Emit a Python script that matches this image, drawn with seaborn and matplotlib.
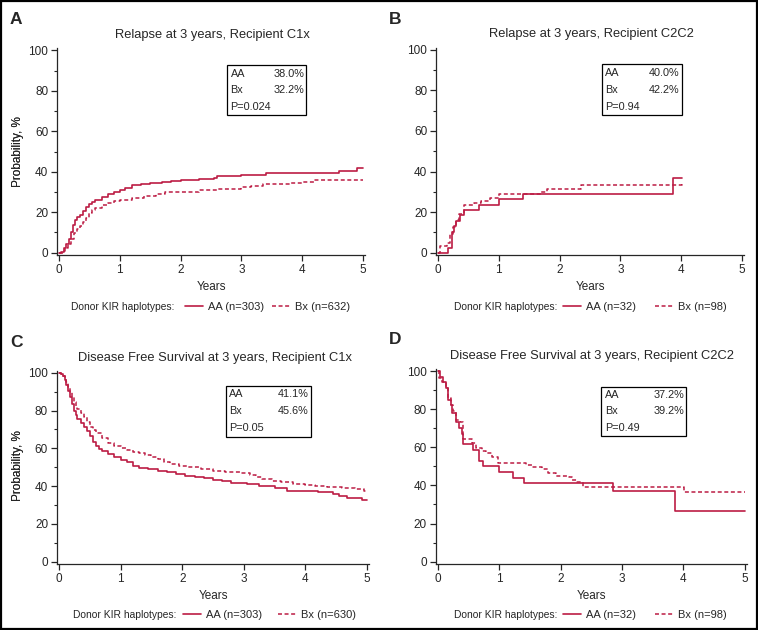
import numpy as np
import pandas as pd
import matplotlib.pyplot as plt
from matplotlib.lines import Line2D
from matplotlib.patches import Rectangle
from matplotlib.ticker import MultipleLocator
import seaborn as sns

# === data: step curves (years, %) ===
# A - relapse, recipient C1x
a_aa_t = [0, 0.04, 0.08, 0.12, 0.16, 0.2, 0.23, 0.26, 0.3, 0.35, 0.4, 0.45, 0.5, 0.55, 0.6, 0.7, 0.8,
          0.9, 1.0, 1.08, 1.2, 1.35, 1.5, 1.7, 1.85, 2.0, 2.3, 2.55, 2.6, 3.0, 3.4, 4.6, 4.9, 5.0]
a_aa_y = [0, 0.5, 2.5, 4.5, 7, 10, 13.5, 16, 17.5, 18.5, 20.5, 22.5, 24, 25, 26, 27.5, 29,
          30, 31, 31.8, 33.5, 34, 34.5, 35, 35.5, 36, 36.5, 37, 38, 38.2, 39.5, 40.5, 41.8, 41.8]
a_bx_t = [0, 0.06, 0.1, 0.15, 0.2, 0.25, 0.3, 0.35, 0.4, 0.45, 0.5, 0.55, 0.6, 0.7, 0.8, 0.9,
          1.0, 1.2, 1.4, 1.6, 1.75, 2.0, 2.3, 2.6, 3.0, 3.15, 3.35, 3.8, 4.0, 4.2, 5.0]
a_bx_y = [0, 1, 2.5, 4.5, 7, 9.5, 11.5, 13, 15, 17, 19.5, 21, 22, 23.5, 24.5, 25.5,
          26.3, 27, 27.8, 29, 30, 30.2, 31, 31.5, 32.3, 33, 34, 34.5, 35.2, 35.8, 35.8]

# B - relapse, recipient C2C2
b_aa_t = [0, 0.17, 0.23, 0.26, 0.3, 0.36, 0.42, 0.68, 1.0, 1.4, 3.87, 4.02]
b_aa_y = [0, 2.5, 10, 13, 15.5, 18.5, 21, 23.7, 26.3, 28.9, 37, 37]
b_bx_t = [0, 0.03, 0.15, 0.2, 0.25, 0.3, 0.35, 0.42, 0.6, 0.7, 0.85, 1.0, 1.7, 1.8, 2.35, 4.02]
b_bx_y = [0, 3.3, 5, 9, 12.5, 16, 19, 23.5, 24.5, 25.5, 27, 29, 30, 31.2, 33.2, 35]

# C - disease free survival, recipient C1x
c_aa_t = [0, 0.03, 0.06, 0.09, 0.12, 0.15, 0.18, 0.21, 0.24, 0.27, 0.3, 0.35, 0.4, 0.45, 0.5,
          0.55, 0.6, 0.65, 0.7, 0.8, 0.9, 1.0, 1.1, 1.2, 1.3, 1.45, 1.6, 1.75, 1.9, 2.05, 2.2,
          2.35, 2.5, 2.65, 2.8, 3.05, 3.25, 3.5, 3.7, 4.2, 4.45, 4.55, 4.68, 4.92, 5.0]
c_aa_y = [100, 99.3, 98, 96, 93.5, 90.5, 87, 83.5, 80, 77.5, 75.5, 73.5, 71.5, 69, 66.5,
          63.5, 61, 59.5, 58.5, 57, 55.5, 54, 52.5, 50.5, 49.8, 48.8, 48, 47.3, 46.5, 45.5, 44.7,
          44.2, 43.3, 42.5, 41.7, 41, 39.8, 38.8, 37.2, 37, 36, 34.7, 33.8, 32.6, 32.6]
c_bx_t = [0, 0.03, 0.06, 0.09, 0.12, 0.15, 0.18, 0.21, 0.24, 0.27, 0.3, 0.35, 0.4, 0.45, 0.5,
          0.55, 0.6, 0.7, 0.8, 0.9, 1.0, 1.1, 1.2, 1.3, 1.4, 1.5, 1.6, 1.7, 1.8, 1.95, 2.1, 2.3,
          2.5, 2.7, 2.95, 3.1, 3.2, 3.3, 3.45, 3.6, 3.8, 4.0, 4.15, 4.35, 4.6, 4.8, 4.95, 5.0]
c_bx_y = [100, 99.5, 98.5, 97, 95, 92.5, 90, 87, 84.5, 82.5, 81, 78.5, 76.5, 74, 71.5,
          69.5, 68, 65.5, 63, 61.2, 60, 59, 58.2, 57.5, 56.5, 55.5, 54.2, 53, 51.5, 50.5, 50, 49,
          48, 47.2, 46.8, 46, 45, 43.5, 42.8, 42, 41.3, 40.5, 39.8, 39.3, 38.8, 38.5, 37.5, 37]

# D - disease free survival, recipient C2C2
d_aa_t = [0, 0.03, 0.09, 0.13, 0.17, 0.21, 0.24, 0.29, 0.35, 0.39, 0.42, 0.57, 0.67, 0.73,
          1.0, 1.22, 1.4, 2.86, 3.86, 5.0]
d_aa_y = [100, 97, 94, 91, 85, 82, 78, 73, 70, 67, 61.5, 58.5, 53, 50.2,
          47.1, 44.1, 41.2, 37.2, 26.8, 26.8]
d_bx_t = [0, 0.02, 0.07, 0.13, 0.17, 0.21, 0.25, 0.3, 0.37, 0.41, 0.42, 0.56, 0.62, 0.72,
          0.78, 0.88, 0.98, 1.43, 1.54, 1.7, 1.79, 1.92, 2.14, 2.19, 2.27, 2.36, 4.01, 5.0]
d_bx_y = [100, 96.5, 94, 91, 86, 82, 79, 74.5, 73.4, 66.4, 64.2, 62, 59.8, 58.2,
          56.8, 55, 51.9, 50.7, 49.8, 48.4, 46.3, 45.1, 44.2, 42.8, 41.6, 39.3, 36.8, 36.8]

titles = ["Relapse at 3 years, Recipient C1x", "Relapse at 3 years, Recipient C2C2",
          "Disease Free Survival at 3 years, Recipient C1x",
          "Disease Free Survival at 3 years, Recipient C2C2"]
letters = ["A", "B", "C", "D"]
box_aa = ["38.0%", "40.0%", "41.1%", "37.2%"]
box_bx = ["32.2%", "42.2%", "45.6%", "39.2%"]
box_p = ["P=0.024", "P=0.94", "P=0.05", "P=0.49"]
n_aa = ["AA (n=303)", "AA (n=32)", "AA (n=303)", "AA (n=32)"]
n_bx = ["Bx (n=632)", "Bx (n=98)", "Bx (n=630)", "Bx (n=98)"]

curves = [(a_aa_t, a_aa_y, a_bx_t, a_bx_y), (b_aa_t, b_aa_y, b_bx_t, b_bx_y),
          (c_aa_t, c_aa_y, c_bx_t, c_bx_y), (d_aa_t, d_aa_y, d_bx_t, d_bx_y)]

# === layout, in pixels of the 758x630 picture ===
W, H = 758, 630
def fx(px):
    return px / W
def fy(py):
    return 1 - py / H

# x0, x5, y0, y100 pixel positions of each panel
frames = [(59, 363, 252.7, 50.5), (438, 742, 252.7, 49.7),
          (59, 367, 561.7, 372.7), (437.7, 744.7, 561.7, 371)]
letter_pos = [(10, 20), (389, 19), (10, 343), (389, 339)]
title_pos = [(212, 38), (591, 37.5), (215, 361), (592, 359)]
box_pos = [(227, 65.3, 306, 115), (601.7, 64.3, 681.7, 115),
           (225.7, 386, 310.7, 436.7), (601.3, 386.7, 686.3, 436)]
xlabel_y = [287, 287, 595.7, 595.7]
ylabel_y = [152, 152, 465.6, 465.6]
# text start, first handle start, second handle start, row centre
legend_row = [(71, 185, 272, 306.5), (454, 563, 655, 306.5),
              (73, 183, 278, 614.5), (454, 563, 655, 614.5)]

RED = "#BC1C44"
DASH = (0, (2.6, 1.7))
XL = (-0.03, 5.03)
YL = (-1.2, 101)

sns.set_style("ticks")
plt.rcParams["font.family"] = ["Liberation Sans", "DejaVu Sans"]
narrow = ["Liberation Sans Narrow", "Liberation Sans", "DejaVu Sans"]

fig = plt.figure(figsize=(W / 100, H / 100), dpi=100)

for i in range(4):
    x0, x5, y0, y100 = frames[i]
    ux = (x5 - x0) / 5
    uy = (y0 - y100) / 100
    left = x0 + XL[0] * ux
    right = x0 + XL[1] * ux
    bottom = y0 - YL[0] * uy
    top = y0 - YL[1] * uy
    ax = fig.add_axes([fx(left), fy(bottom), (right - left) / W, (bottom - top) / H])

    aa_t, aa_y, bx_t, bx_y = curves[i]
    df_aa = pd.DataFrame({"Years": aa_t, "Prob": aa_y})
    df_bx = pd.DataFrame({"Years": bx_t, "Prob": bx_y})
    sns.lineplot(data=df_aa, x="Years", y="Prob", ax=ax, color=RED, linewidth=1.2,
                 drawstyle="steps-post", estimator=None, sort=False, linestyle="-")
    sns.lineplot(data=df_bx, x="Years", y="Prob", ax=ax, color=RED, linewidth=1.1,
                 drawstyle="steps-post", estimator=None, sort=False, linestyle=DASH)

    ax.set_xlim(*XL)
    ax.set_ylim(*YL)
    ax.set_xticks(range(6))
    ax.set_yticks(range(0, 101, 20))
    ax.yaxis.set_minor_locator(MultipleLocator(10))
    ax.tick_params(axis="both", which="major", length=4, width=0.9, labelsize=8.5, pad=2.5,
                   direction="out")
    ax.tick_params(axis="y", which="minor", length=2, width=0.8)
    for s in ["left", "bottom"]:
        ax.spines[s].set_linewidth(0.9)
    sns.despine(ax=ax)

    ax.set_xlabel("Years", fontsize=8.5, family=narrow, va="center")
    ax.xaxis.set_label_coords(fx((left + right) / 2), fy(xlabel_y[i]), transform=fig.transFigure)
    ax.set_ylabel("Probability, %", fontsize=8.5, family=narrow, va="center")
    ax.yaxis.set_label_coords(fx(18), fy(ylabel_y[i]), transform=fig.transFigure)

    # title and panel letter
    tx, ty = title_pos[i]
    fig.text(fx(tx), fy(ty), titles[i], ha="center", va="baseline", fontsize=9.3)
    lx, ly = letter_pos[i]
    fig.text(fx(lx), fy(ly), letters[i], ha="left", va="center", fontsize=12.5, fontweight="bold")

    # estimate box
    bl, bt, br, bb = box_pos[i]
    fig.add_artist(Rectangle((fx(bl), fy(bb)), (br - bl) / W, (bb - bt) / H,
                             transform=fig.transFigure, fill=False, edgecolor="black", lw=0.9))
    row_h = (bb - bt) / 3
    for k, (lab, val) in enumerate([("AA", box_aa[i]), ("Bx", box_bx[i]), (box_p[i], "")]):
        yy = bt + row_h * (k + 0.5)
        fig.text(fx(bl + 3.5), fy(yy), lab, ha="left", va="center", fontsize=7.8)
        if val:
            fig.text(fx(br - 2), fy(yy), val, ha="right", va="center", fontsize=7.8)

    # legend row under the axis: label text then two legend entries
    tx0, h1, h2, ry = legend_row[i]
    fig.text(fx(tx0), fy(ry), "Donor KIR haplotypes:", ha="left", va="center", fontsize=7.4)
    h_aa = Line2D([], [], color=RED, lw=1.2, linestyle="-")
    h_bx = Line2D([], [], color=RED, lw=1.1, linestyle=DASH)
    for h, lab, hx in [(h_aa, n_aa[i], h1), (h_bx, n_bx[i], h2)]:
        fig.legend([h], [lab], loc="center left", bbox_to_anchor=(fx(hx), fy(ry)),
                   frameon=False, fontsize=8.0, handlelength=1.6, handletextpad=0.5,
                   borderpad=0, borderaxespad=0)

# outer frame
fig.add_artist(Rectangle((0.0015, 0.0015), 0.997, 0.997, transform=fig.transFigure,
                         fill=False, edgecolor="black", lw=1.6))

fig.savefig("out.png", dpi=100)
